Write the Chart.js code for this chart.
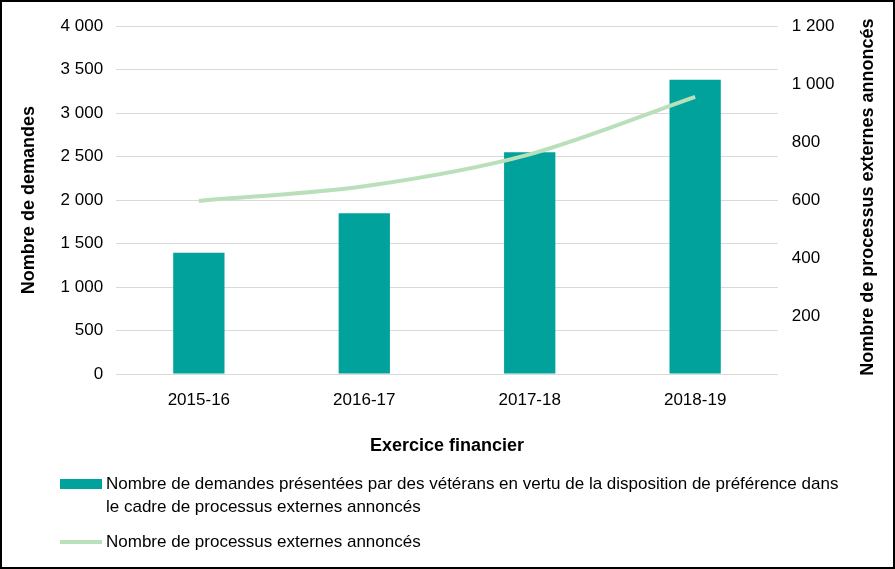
<!DOCTYPE html>
<html><head><meta charset="utf-8">
<script src="https://cdn.jsdelivr.net/npm/chart.js@4"></script>
<style>
html,body{margin:0;padding:0;background:#fff;}
#wrap{position:relative;width:895px;height:569px;box-sizing:border-box;border:2px solid #000;overflow:hidden;}
#c{position:absolute;left:0;top:0;}
#legend{position:absolute;left:58px;top:470px;font-family:"Liberation Sans",sans-serif;font-size:17px;color:#000;line-height:23px;}
.item{position:relative;padding-left:46px;}
.sw{position:absolute;left:0;}
</style></head>
<body>
<div id="wrap"><canvas id="c" width="891" height="565"></canvas>
<div id="legend">
<div class="item"><span class="sw" style="top:7px;width:42px;height:10px;background:#00A29B"></span>Nombre de demandes présentées par des vétérans en vertu de la disposition de préférence dans<br>le cadre de processus externes annoncés</div>
<div class="item" style="margin-top:12px"><span class="sw" style="top:10px;width:42px;height:4px;background:#B9E0BA"></span>Nombre de processus externes annoncés</div>
</div>
</div>
<script>
const categories = ["2015-16","2016-17","2017-18","2018-19"];
const demandes = [1395, 1850, 2550, 3385];
const processus = [597, 648, 758, 956];
const barLabel = "Nombre de demandes présentées par des vétérans en vertu de la disposition de préférence dans le cadre de processus externes annoncés";
const lineLabel = "Nombre de processus externes annoncés";
const leftTitle = "Nombre de demandes";
const rightTitle = "Nombre de processus externes annoncés";
const xTitle = "Exercice financier";

const fmt = v => String(v).replace(/\B(?=(\d{3})+(?!\d))/g, " ");
const font = "'Liberation Sans', sans-serif";
Chart.defaults.font.family = font;
Chart.defaults.color = "#000";

const rightTitlePlugin = {
  id: "rightTitle",
  afterDraw(chart) {
    const s = chart.scales.y1;
    const ctx = chart.ctx;
    ctx.save();
    ctx.font = "bold 18px " + font;
    ctx.fillStyle = "#000";
    ctx.textAlign = "center";
    ctx.textBaseline = "middle";
    const x = s.right - 12;
    const y = (chart.chartArea.top + chart.chartArea.bottom) / 2 - 3;
    ctx.translate(x, y);
    ctx.rotate(-Math.PI / 2);
    ctx.fillText(rightTitle, 0, 0);
    ctx.restore();
  }
};

new Chart(document.getElementById("c"), {
  data: {
    labels: categories,
    datasets: [
      {type:"line", label: lineLabel, data: processus, yAxisID:"y1", borderColor:"#B9E0BA", backgroundColor:"#B9E0BA", borderWidth:4, pointRadius:0, tension:0.3, order:0},
      {type:"bar", label: barLabel, data: demandes, yAxisID:"y", backgroundColor:"#00A29B", barPercentage:0.31, categoryPercentage:1, order:1}
    ]
  },
  options: {
    responsive:false, animation:false,
    layout:{padding:{left:12,right:13,top:6,bottom:106}},
    plugins:{legend:{display:false}, tooltip:{enabled:false}},
    scales:{
      x:{grid:{display:false}, border:{display:false}, ticks:{font:{size:17}, padding:8},
         title:{display:true, text:xTitle, font:{size:18, weight:"bold"}, padding:{top:17}}},
      y:{position:"left", min:0, max:4000, grid:{color:"#D9D9D9", drawTicks:false}, border:{display:false},
         ticks:{stepSize:500, font:{size:17}, padding:13, callback:v=>fmt(v)},
         title:{display:true, text:leftTitle, font:{size:18, weight:"bold"}, padding:{bottom:8}}},
      y1:{position:"right", min:0, max:1200, grid:{display:false, drawTicks:false}, border:{display:false},
         ticks:{stepSize:200, font:{size:17}, padding:14, callback:v=> v===0 ? "" : fmt(v)},
         title:{display:true, text:rightTitle, color:"rgba(0,0,0,0)", font:{size:18, weight:"bold"}, padding:{top:6}}}
    }
  },
  plugins:[rightTitlePlugin]
});
</script>
</body></html>
